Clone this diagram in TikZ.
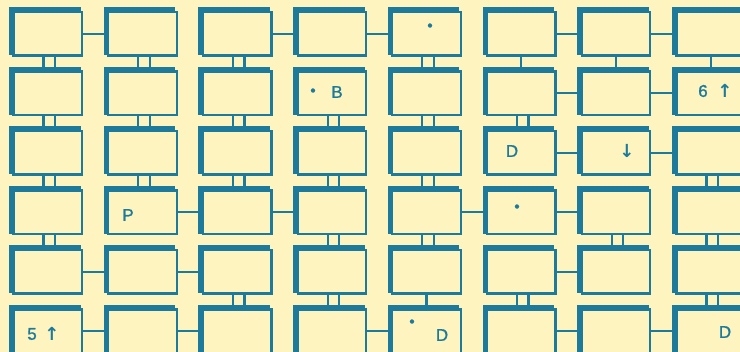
\documentclass[tikz,border=0pt]{standalone}
\usepackage{fontspec}
\setmainfont{Liberation Sans}
\newfontfamily\labfont[FakeBold=1.2]{Liberation Sans}
\newfontfamily\arrfont{DejaVu Sans}
\definecolor{ink}{RGB}{30,122,155}
\definecolor{bg}{RGB}{254,244,192}
\tikzset{
  cell/.style={rectangle, draw=ink, fill=bg, line width=2.2pt, minimum width=68.5pt, minimum height=43.5pt, inner sep=0pt},
  link/.style={draw=ink, line width=2.2pt},
  lbl/.style={text=ink, inner sep=0pt, font=\labfont\fontsize{17}{20}\selectfont},
  arr/.style={text=ink, inner sep=0pt, font=\arrfont\bfseries\fontsize{18}{20}\selectfont},
  dotlbl/.style={text=ink, inner sep=0pt, font=\labfont\fontsize{15}{15}\selectfont}
}
\newcommand\mybox[2]{%
  \pgfmathsetmacro\sx{9+94.7*(#1-1)}%
  \pgfmathsetmacro\ty{7.5+59.5*(#2-1)}%
  \fill[ink] (\sx,\ty) rectangle ({\sx+71.5},{\ty+48});%
  \node[cell] (r#2c#1) at ({\sx+38.75},{\ty+26.25}) {};%
}
\newcommand\hlink[2]{\draw[link] (#1.east) -- (#2.west);}
\newcommand\dlink[2]{%
  \draw[link] ([xshift=-4.25pt]#1.south) -- ([xshift=-4.25pt]#2.north);%
  \draw[link] ([xshift=7.25pt]#1.south) -- ([xshift=7.25pt]#2.north);}
\newcommand\slink[2]{\draw[link] (#1.south) -- (#2.north);}
\begin{document}
\begin{tikzpicture}[x=1pt,y=-1pt]
\useasboundingbox (0,0) rectangle (740,352);
\clip (0,0) rectangle (740,352);
\fill[bg] (0,0) rectangle (740,352);
\foreach \j in {1,...,6}{\foreach \i in {1,...,8}{\mybox{\i}{\j}}}
% horizontal links
\hlink{r1c1}{r1c2}\hlink{r1c3}{r1c4}\hlink{r1c4}{r1c5}\hlink{r1c6}{r1c7}\hlink{r1c7}{r1c8}
\hlink{r2c6}{r2c7}\hlink{r2c7}{r2c8}
\hlink{r3c6}{r3c7}\hlink{r3c7}{r3c8}
\hlink{r4c2}{r4c3}\hlink{r4c3}{r4c4}\hlink{r4c5}{r4c6}\hlink{r4c6}{r4c7}
\hlink{r5c1}{r5c2}\hlink{r5c2}{r5c3}\hlink{r5c6}{r5c7}
\hlink{r6c1}{r6c2}\hlink{r6c2}{r6c3}\hlink{r6c4}{r6c5}\hlink{r6c6}{r6c7}\hlink{r6c7}{r6c8}
% vertical links
\dlink{r1c1}{r2c1}\dlink{r1c2}{r2c2}\dlink{r1c3}{r2c3}\dlink{r1c5}{r2c5}
\slink{r1c6}{r2c6}\slink{r1c7}{r2c7}\slink{r1c8}{r2c8}
\dlink{r2c1}{r3c1}\dlink{r2c2}{r3c2}\dlink{r2c3}{r3c3}\dlink{r2c4}{r3c4}\dlink{r2c5}{r3c5}\dlink{r2c6}{r3c6}
\dlink{r3c1}{r4c1}\dlink{r3c2}{r4c2}\dlink{r3c3}{r4c3}\dlink{r3c4}{r4c4}\dlink{r3c5}{r4c5}\dlink{r3c8}{r4c8}
\dlink{r4c1}{r5c1}\dlink{r4c4}{r5c4}\dlink{r4c5}{r5c5}\dlink{r4c7}{r5c7}\dlink{r4c8}{r5c8}
\dlink{r5c3}{r6c3}\dlink{r5c4}{r6c4}\slink{r5c5}{r6c5}\dlink{r5c6}{r6c6}\dlink{r5c8}{r6c8}
% labels
\node[dotlbl] (t1) at (430,27) {•};
\node[dotlbl] (t2) at (313,92) {•};
\node[lbl] (t3) at (337,92) {B};
\node[lbl] (t4) at (703,91) {6};
\node[arr] (t5) at (725,91) {↑};
\node[lbl] (t6) at (512,151) {D};
\node[arr] (t7) at (627,151) {↓};
\node[lbl] (t8) at (128,215) {P};
\node[dotlbl] (t9) at (517,208) {•};
\node[lbl] (t10) at (32,334) {5};
\node[arr] (t11) at (52,334) {↑};
\node[dotlbl] (t12) at (412,323) {•};
\node[lbl] (t13) at (442,335) {D};
\node[lbl] (t14) at (725,332) {D};
\end{tikzpicture}
\end{document}
